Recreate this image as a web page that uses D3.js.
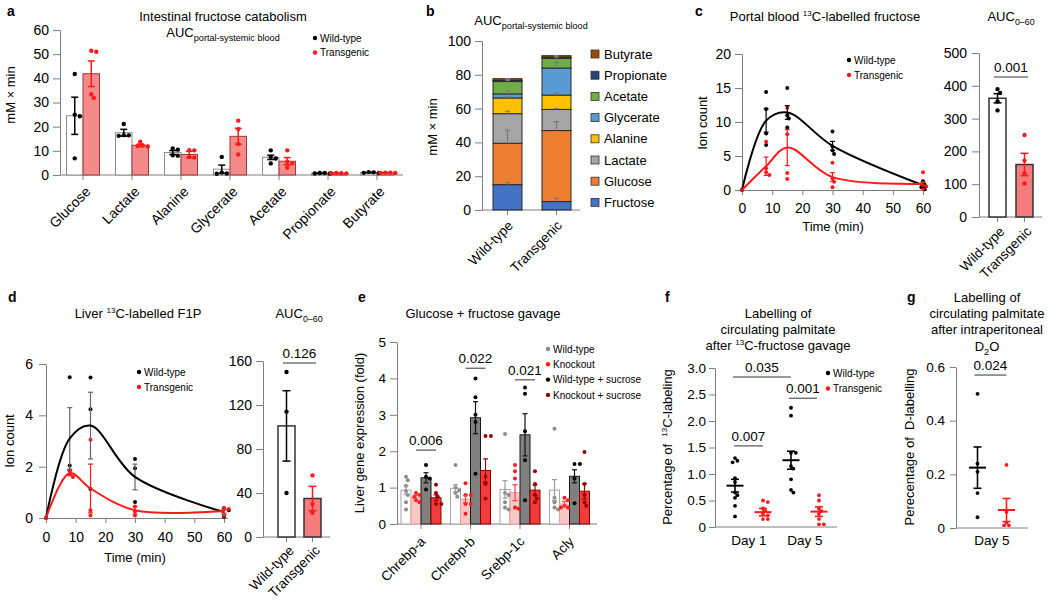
<!DOCTYPE html>
<html><head><meta charset="utf-8">
<script src="https://cdn.jsdelivr.net/npm/d3@7"></script>
<style>
body{margin:0;background:#fff}
svg{font-family:"Liberation Sans",Arial,Helvetica,sans-serif}
</style></head><body>
<svg id="chart" width="1050" height="600"></svg>
<script>
// ---------------- DATA ----------------
// Panel a
const aCats = ["Glucose","Lactate","Alanine","Glycerate","Acetate","Propionate","Butyrate"];
const aWtMean = [24.5,17.5,9.3,2.4,7.3,0.7,1.0];
const aWtSem  = [7.7,1.4,0.8,1.7,0.9,0.1,0.1];
const aTgMean = [41.9,12.3,8.5,16.0,5.7,0.7,0.9];
const aTgSem  = [5.3,0.5,1.3,3.3,1.5,0.1,0.1];
const aWtPts = [[41.8,6.9,25,24.3],[21.1,16.5,16.2,16.4],[11,10.5,8,8.2],[7.5,0.5,0.6,1.0],[10.2,7.5,6.8,4.8],[0.6,0.8,0.8,0.6],[0.8,1.2,1.1,0.9]];
const aTgPts = [[51,51.4,33.4,31.9],[12,13.8,12.2,11.8],[10.3,10.2,7.2,7.5],[22.5,19,12.8,8.5],[10.2,5.5,4.8,3],[0.6,0.7,0.8,0.7],[0.9,1.0,0.8,1.0]];
const aYTicks = [0,10,20,30,40,50,60];

// Panel b
const bGroups = ["Wild-type","Transgenic"];
const bComponents = ["Fructose","Glucose","Lactate","Alanine","Glycerate","Acetate","Propionate","Butyrate"];
const bColors = ["#4472C4","#ED7D31","#A5A5A5","#FFC000","#5B9BD5","#70AD47","#264478","#9E480E"];
const bWt = [15,24.5,17.5,9.3,2.4,7.3,0.7,1.0];
const bTg = [5,42,12.5,8.5,16,5.7,0.7,0.9];
const bWtSem = [1.2,7.7,1.4,0.8,1.7,0.9,0.1,0.1];
const bTgSem = [2.0,5.3,0.5,1.3,3.3,1.5,0.1,0.1];
const bYTicks = [0,20,40,60,80,100];

// Panel c
const cTimes = [0,8,15,30,60];
const cWtMean = [0,10.2,11.4,6.5,0.7];
const cWtSem  = [0,1.7,1.0,0.65,0.3];
const cTgMean = [0,3.5,6.25,1.9,0.9];
const cTgSem  = [0,1.35,2.65,0.65,0.3];
const cWtPts = [[0],[14.4,11.9,8.3,6.6],[15,11,10.5,9.2],[8.6,6.4,5.8,5.3],[1.3,0.8,0.4,0.1]];
const cTgPts = [[0],[7.1,3.2,2.6,2.2],[12.1,8.2,2.5,1.6],[4.0,1.7,1.2,0.4],[2.6,0.9,0.5,0.2]];
const cXTicks = [0,10,20,30,40,50,60];
const cYTicks = [0,5,10,15,20];
const cAucMean = [362,160];
const cAucSem  = [14,34];
const cAucPts  = [[390,378,352,325],[250,172,133,102]];
const cAucTicks = [0,100,200,300,400,500];
const cAucP = "0.001";

// Panel d
const dWtMean = [0,3.1,3.6,1.6,0.23];
const dWtSem  = [0,1.2,1.3,0.5,0.1];
const dTgMean = [0,1.75,1.15,0.3,0.27];
const dTgSem  = [0,0.1,0.95,0.15,0.08];
const dWtPts = [[0],[5.48,2.05,1.85],[5.47,4.24,1.13],[2.3,1.94,0.62],[0.35,0.3,0.05]];
const dTgPts = [[0],[1.85,1.7,1.6],[3.05,0.3,0.1],[0.45,0.25,0.1],[0.4,0.35,0.1]];
const dYTicks = [0,2,4,6];
const dAucMean = [101,35];
const dAucSem  = [32,11];
const dAucPts  = [[150,114,40],[56,30,22]];
const dAucTicks = [0,40,80,120,160];
const dAucP = "0.126";

// Panel e
const eGenes = ["Chrebp-a","Chrebp-b","Srebp-1c","Acly"];
const eGroups = ["Wild-type","Knockout","Wild-type + sucrose","Knockout + sucrose"];
const eWt   = [0.93,0.98,0.95,0.93];
const eKo   = [0.72,0.68,0.86,0.55];
const eWtS  = [1.27,2.92,2.45,1.31];
const eKoS  = [0.72,1.47,0.93,0.90];
const eWtSem  = [0.12,0.10,0.24,0.29];
const eKoSem  = [0.07,0.10,0.22,0.07];
const eWtSSem = [0.14,0.44,0.58,0.18];
const eKoSSem = [0.08,0.32,0.14,0.21];
const eWtPts  = [[1.3,1.2,1.05,0.9,0.8,0.6,0.4],[1.62,1.0,0.92,0.85,0.75],[2.47,0.85,0.8,0.6,0.45,0.4],[2.62,0.72,0.6,0.45,0.4]];
const eKoPts  = [[0.85,0.8,0.75,0.65,0.6],[1.12,0.8,0.8,0.55,0.55,0.28],[1.62,1.45,1.25,0.45,0.42],[0.72,0.65,0.5,0.45,0.45]];
const eWtSPts = [[1.62,1.3,1.25,0.95],[4.0,3.48,3.0,2.8,1.38],[3.75,3.58,2.55,1.75,0.65],[1.65,1.65,1.25,0.57]];
const eKoSPts = [[1.08,0.85,0.75,0.55,0.55],[2.42,2.42,1.3,1.1,0.7],[1.45,1.1,0.8,0.7,0.6],[1.98,1.1,0.8,0.6,0.5]];
const eYTicks = [0,1,2,3,4,5];
const eSigGene = [0,1,2];
const eSigY = [2.03,4.28,3.96];
const eSigP = ["0.006","0.022","0.021"];

// Panel f
const fDays = ["Day 1","Day 5"];
const fWtMean = [0.78,1.26];
const fWtSem  = [0.12,0.17];
const fTgMean = [0.28,0.29];
const fTgSem  = [0.07,0.09];
const fWtPts = [[1.3,1.25,1.22,0.92,0.85,0.65,0.6,0.55,0.4,0.2],[2.25,2.1,1.4,1.4,1.15,1.1,0.9,0.7,0.65]];
const fTgPts = [[0.5,0.47,0.35,0.3,0.25,0.22,0.15,0.15],[0.6,0.5,0.35,0.3,0.25,0.15,0.05,0.05]];
const fYTicks = [0,0.5,1.0,1.5,2.0,2.5,3.0];
const fSigP = ["0.035","0.001","0.007"];
const fSigY = [2.83,2.43,1.53];

// Panel g
const gDays = ["Day 5"];
const gWtMean = [0.225], gWtSem = [0.077];
const gTgMean = [0.067], gTgSem = [0.043];
const gWtPts = [[0.5,0.24,0.21,0.13,0.04]];
const gTgPts = [[0.235,0.06,0.02,0.01,0.01]];
const gYTicks = [0,0.2,0.4,0.6];
const gSigP = "0.024";
const gSigY = 0.57;

// ---------------- HELPERS ----------------
const FONT = '"Liberation Sans", Arial, Helvetica, sans-serif';
const AX = "#7f7f7f";
const svg = d3.select("#chart");
const fmtInt = d => String(d);
const fmt1 = d => d === 0 ? "0" : d3.format(".1f")(d);

function txt(x, y, s, o = {}) {
  const t = svg.append("text").text(s)
    .attr("font-size", o.fs || 13)
    .attr("text-anchor", o.anchor || "middle")
    .attr("fill", o.fill || "#000");
  if (o.weight) t.attr("font-weight", o.weight);
  if (o.rotate) t.attr("transform", `translate(${x},${y}) rotate(${o.rotate})`);
  else t.attr("x", x).attr("y", y);
  return t;
}
function rich(x, y, parts, fs, o = {}) {
  const t = svg.append("text").attr("font-size", fs)
    .attr("text-anchor", o.anchor || "middle").attr("fill", "#000");
  if (o.rotate) t.attr("transform", `translate(${x},${y}) rotate(${o.rotate})`);
  else t.attr("x", x).attr("y", y);
  let shift = 0;
  parts.forEach(p => {
    const s = typeof p === "string" ? { t: p } : p;
    const target = s.sub ? fs * 0.32 : s.sup ? -fs * 0.42 : 0;
    const ts = t.append("tspan").attr("dy", target - shift).text(s.t);
    if (s.sub || s.sup) ts.attr("font-size", fs * (s.size || 0.62));
    shift = target;
  });
  return t;
}
function styleAxis(g, fs) {
  g.attr("font-family", FONT);
  g.select(".domain").attr("stroke", AX);
  g.selectAll(".tick line").attr("stroke", AX);
  g.selectAll(".tick text").attr("font-size", fs).attr("fill", "#000");
}
function yAxis(scale, x, ticks, fs, size, pad, fmt) {
  const a = d3.axisLeft(scale).tickValues(ticks).tickSize(size).tickSizeOuter(0).tickPadding(pad)
    .tickFormat(fmt || fmtInt);
  const g = svg.append("g").attr("transform", `translate(${x},0)`).call(a);
  styleAxis(g, fs);
  return g;
}
function hline(x0, x1, y, color = AX, w = 1) {
  svg.append("line").attr("x1", x0).attr("x2", x1).attr("y1", y).attr("y2", y)
    .attr("stroke", color).attr("stroke-width", w);
}
function catAxis(scale, y, x0, x1, fs, ox, oy, tick = 5) {
  const g = svg.append("g").attr("transform", `translate(0,${y})`)
    .call(d3.axisBottom(scale).tickSize(tick).tickSizeOuter(0));
  styleAxis(g, fs);
  g.select(".domain").remove();
  g.selectAll(".tick text").attr("x", 0).attr("y", 0).attr("dy", "0.35em")
    .attr("text-anchor", "end").attr("transform", `translate(${ox},${oy}) rotate(-45)`);
  hline(x0, x1, y);
  return g;
}
// band scale whose bands (width bw) are centred on c0, c0+step, ...
function bandAt(domain, c0, step, bw) {
  const p = 1 - bw / step;
  return d3.scaleBand().domain(domain)
    .range([c0 - step / 2, c0 - step / 2 + step * domain.length])
    .paddingInner(p).paddingOuter(p / 2);
}
function swarm(vals, ys, r, step) {
  const out = [];
  vals.map(v => v).sort((a, b) => b - a).forEach(v => {
    const py = ys(v);
    const cands = [0];
    for (let k = 1; k < 14; k++) cands.push(k * step, -k * step);
    let dx = 0;
    for (const c of cands) {
      if (out.every(q => (q.dx - c) ** 2 + (q.py - py) ** 2 >= (2 * r) ** 2 * 0.85)) { dx = c; break; }
    }
    out.push({ v, py, dx });
  });
  return out;
}
function dots(vals, cx, ys, r, color, step) {
  swarm(vals, ys, r, step || r * 1.15).forEach(p => {
    svg.append("circle").attr("cx", cx + p.dx).attr("cy", p.py).attr("r", r).attr("fill", color);
  });
}
function errBar(cx, m, s, ys, color, cap, w, upOnly) {
  const y0 = ys(upOnly ? m : m - s), y1 = ys(m + s);
  svg.append("line").attr("x1", cx).attr("x2", cx).attr("y1", y0).attr("y2", y1)
    .attr("stroke", color).attr("stroke-width", w);
  hline(cx - cap / 2, cx + cap / 2, y1, color, w);
  if (!upOnly) hline(cx - cap / 2, cx + cap / 2, y0, color, w);
}
function legendDots(x, y0, dy, labels, colors, fs) {
  labels.forEach((l, i) => {
    svg.append("circle").attr("cx", x).attr("cy", y0 + i * dy).attr("r", 2.2).attr("fill", colors[i]);
    txt(x + 5, y0 + i * dy + fs * 0.36, l, { fs, anchor: "start" });
  });
}
function sig(x0, x1, y, label, fs = 13) {
  hline(x0, x1, y, "#333", 1);
  txt((x0 + x1) / 2, y - 5, label, { fs });
}

// ---------------- PANEL LETTERS ----------------
[["a",7,16],["b",426,16],["c",695,16],["d",8,302],["e",358,302],["f",665,302],["g",907,302]]
  .forEach(([l, x, y]) => txt(x, y, l, { fs: 14, weight: "bold", anchor: "start" }));

// ---------------- PANEL A ----------------
(function () {
  const ys = d3.scaleLinear([0, 60], [175, 30]);
  const xs = bandAt(aCats, 83, 49, 33);
  yAxis(ys, 60, aYTicks, 14, 7, 4);
  catAxis(xs, 175, 60, 403, 14, 5, 14);
  const bw = xs.bandwidth() / 2;
  aCats.forEach((c, i) => {
    const x0 = xs(c);
    svg.append("rect").attr("x", x0).attr("y", ys(aWtMean[i])).attr("width", bw)
      .attr("height", ys(0) - ys(aWtMean[i])).attr("fill", "#fff").attr("stroke", "#8c8c8c");
    svg.append("rect").attr("x", x0 + bw).attr("y", ys(aTgMean[i])).attr("width", bw)
      .attr("height", ys(0) - ys(aTgMean[i])).attr("fill", "#f58a8a").attr("stroke", "#9c3a3a");
    errBar(x0 + bw / 2, aWtMean[i], aWtSem[i], ys, "#000", 7, 1.5);
    errBar(x0 + bw * 1.5, aTgMean[i], aTgSem[i], ys, "#ff1a1a", 7, 1.5);
    dots(aWtPts[i], x0 + bw / 2, ys, 2.2, "#000");
    dots(aTgPts[i], x0 + bw * 1.5, ys, 2.2, "#ff1a1a");
  });
  txt(223, 21, "Intestinal fructose catabolism", { fs: 13 });
  rich(223, 37, ["AUC", { t: "portal-systemic blood", sub: true, size: 0.7 }], 13);
  txt(15, 95, "mM × min", { fs: 13, rotate: -90 });
  legendDots(315, 38, 14.5, ["Wild-type", "Transgenic"], ["#000", "#ff1a1a"], 10);
})();

// ---------------- PANEL B ----------------
(function () {
  const ys = d3.scaleLinear([0, 100], [210, 41]);
  const xs = bandAt(bGroups, 507.5, 49, 29);
  yAxis(ys, 482, bYTicks, 14, 7, 4);
  catAxis(xs, 210, 482, 580, 13.5, 3, 13);
  const series = [bWt, bTg], sems = [bWtSem, bTgSem];
  bGroups.forEach((g, gi) => {
    let cum = 0;
    const tops = [];
    bComponents.forEach((c, ci) => {
      const v = series[gi][ci];
      svg.append("rect").attr("x", xs(g)).attr("y", ys(cum + v)).attr("width", xs.bandwidth())
        .attr("height", ys(cum) - ys(cum + v)).attr("fill", bColors[ci]).attr("stroke", "#2b2b2b").attr("stroke-width", 1);
      cum += v;
      tops.push(cum);
    });
    bComponents.forEach((c, ci) => {
      errBar(xs(g) + xs.bandwidth() / 2, tops[ci], sems[gi][ci], ys, "#7a7a7a", 5, 1.2, true);
    });
  });
  rich(531, 25, ["AUC", { t: "portal-systemic blood", sub: true, size: 0.7 }], 13);
  txt(437, 127, "mM × min", { fs: 13, rotate: -90 });
  const order = bComponents.slice().reverse();
  order.forEach((c, i) => {
    const ci = bComponents.indexOf(c);
    const y = 54 + i * 21.2;
    svg.append("rect").attr("x", 591).attr("y", y - 4).attr("width", 8).attr("height", 8)
      .attr("fill", bColors[ci]).attr("stroke", "#333").attr("stroke-width", 0.8);
    txt(604, y + 4.5, c, { fs: 13, anchor: "start" });
  });
})();

// ---------------- LINE PANEL HELPER ----------------
function linePanel(o) {
  const xs = d3.scaleLinear([0, 60], o.xr);
  const ys = d3.scaleLinear([0, o.ymax], o.yr);
  yAxis(ys, o.xr[0], o.yticks, 14, 7, o.ypad);
  const gx = svg.append("g").attr("transform", `translate(0,${o.yr[0]})`)
    .call(d3.axisBottom(xs).tickValues(cXTicks).tickSize(5).tickSizeOuter(0).tickPadding(o.xpad).tickFormat(fmtInt));
  styleAxis(gx, 14);
  gx.select(".domain").attr("d", `M${o.xr[0]},0.5H${o.xr[1] + 4}`);
  const line = d3.line().x((d, i) => xs(cTimes[i])).y(d => ys(d)).curve(d3.curveCatmullRom.alpha(0.5));
  [[o.wtPts, o.wtColor], [o.tgPts, "#ff1a1a"]].forEach(([pts, col]) => {
    pts.forEach((arr, i) => dots(arr, xs(cTimes[i]), ys, 2, col, 1.6));
  });
  [[o.wtMean, o.wtSem, o.wtErr, "#000"], [o.tgMean, o.tgSem, "#ff1a1a", "#ff1a1a"]].forEach(([m, s, ec, lc]) => {
    m.forEach((v, i) => { if (i > 0) errBar(xs(cTimes[i]), v, s[i], ys, ec, 5, 1.2); });
    svg.append("path").attr("d", line(m)).attr("fill", "none").attr("stroke", lc).attr("stroke-width", 2);
  });
  return { xs, ys };
}
function aucPanel(o) {
  const ys = d3.scaleLinear([0, o.ymax], o.yr);
  const xs = bandAt(bGroups, o.c0, o.step, 17);
  yAxis(ys, o.x0, o.ticks, 14, 7, o.ypad);
  catAxis(xs, o.yr[0], o.x0, o.x1, 13.5, o.lox, o.loy, 5);
  const fills = ["#fff", "#f47c7c"], ecol = ["#000", "#ff1a1a"];
  bGroups.forEach((g, i) => {
    const cx = xs(g) + xs.bandwidth() / 2;
    svg.append("rect").attr("x", xs(g)).attr("y", ys(o.mean[i])).attr("width", xs.bandwidth())
      .attr("height", o.yr[0] - ys(o.mean[i])).attr("fill", fills[i]).attr("stroke", "#333").attr("stroke-width", 1.5);
    errBar(cx, o.mean[i], o.sem[i], ys, ecol[i], 8, 1.5);
    dots(o.pts[i], cx, ys, 2.2, ecol[i]);
  });
  const c1 = xs(bGroups[0]) + xs.bandwidth() / 2, c2 = xs(bGroups[1]) + xs.bandwidth() / 2;
  sig(c1 - 3.5, c2 + 3.5, o.sigY, o.p, 13.5);
}

// ---------------- PANEL C ----------------
linePanel({ xr: [742, 923], yr: [190, 54], ymax: 20, yticks: cYTicks, ypad: 4, xpad: 8,
  wtMean: cWtMean, wtSem: cWtSem, tgMean: cTgMean, tgSem: cTgSem, wtPts: cWtPts, tgPts: cTgPts,
  wtColor: "#000", wtErr: "#000" });
rich(825, 21, ["Portal blood ", { t: "13", sup: true }, "C-labelled fructose"], 13);
txt(833, 231, "Time (min)", { fs: 13 });
txt(707, 123, "Ion count", { fs: 13, rotate: -90 });
legendDots(849, 60, 15, ["Wild-type", "Transgenic"], ["#000", "#ff1a1a"], 10);
aucPanel({ yr: [217, 53], ymax: 500, c0: 997.5, step: 27, x0: 979, x1: 1042, ticks: cAucTicks,
  ypad: 5, lox: 4.5, loy: 12, mean: cAucMean, sem: cAucSem, pts: cAucPts, sigY: 77, p: cAucP });
rich(1011, 21, ["AUC", { t: "0–60", sub: true, size: 0.68 }], 13);

// ---------------- PANEL D ----------------
linePanel({ xr: [46, 224], yr: [518, 364], ymax: 6, yticks: dYTicks, ypad: 6, xpad: 9,
  wtMean: dWtMean, wtSem: dWtSem, tgMean: dTgMean, tgSem: dTgSem, wtPts: dWtPts, tgPts: dTgPts,
  wtColor: "#000", wtErr: "#666" });
rich(138, 318, ["Liver ", { t: "13", sup: true }, "C-labelled F1P"], 13);
txt(135, 562, "Time (min)", { fs: 13 });
txt(14, 441, "Ion count", { fs: 13, rotate: -90 });
legendDots(139, 372, 15, ["Wild-type", "Transgenic"], ["#000", "#ff1a1a"], 10);
aucPanel({ yr: [537, 361], ymax: 160, c0: 286.5, step: 26, x0: 263, x1: 330, ticks: dAucTicks,
  ypad: 4, lox: 5, loy: 11, mean: dAucMean, sem: dAucSem, pts: dAucPts, sigY: 363, p: dAucP });
rich(299, 318, ["AUC", { t: "0–60", sub: true, size: 0.68 }], 13);

// ---------------- PANEL E ----------------
(function () {
  const ys = d3.scaleLinear([0, 5], [524, 342]);
  const xs = bandAt(eGenes, 421, 49.5, 40);
  yAxis(ys, 397, eYTicks, 13.5, 7, 4);
  catAxis(xs, 524, 397, 597, 13.5, 2, 15);
  const sub = d3.scaleBand().domain(eGroups).range([0, xs.bandwidth()]);
  const means = [eWt, eKo, eWtS, eKoS], sems = [eWtSem, eKoSem, eWtSSem, eKoSSem];
  const pts = [eWtPts, eKoPts, eWtSPts, eKoSPts];
  const fills = ["#ffffff", "#fbc6c6", "#808080", "#f23c3c"];
  const strokes = ["#a6a6a6", "#f19a9a", "#1a1a1a", "#8a0000"];
  const ecols = ["#9a9a9a", "#ff3b3b", "#111", "#a00000"];
  const dcols = ["#8c8c8c", "#ff1a1a", "#000", "#9b0000"];
  eGenes.forEach((gname, gi) => {
    eGroups.forEach((grp, k) => {
      const x = xs(gname) + sub(grp), m = means[k][gi];
      svg.append("rect").attr("x", x).attr("y", ys(m)).attr("width", sub.bandwidth())
        .attr("height", ys(0) - ys(m)).attr("fill", fills[k]).attr("stroke", strokes[k]).attr("stroke-width", 1);
    });
    eGroups.forEach((grp, k) => {
      const cx = xs(gname) + sub(grp) + sub.bandwidth() / 2;
      dots(pts[k][gi], cx, ys, 2, dcols[k], 1.8);
      errBar(cx, means[k][gi], sems[k][gi], ys, ecols[k], 5, 1.2);
    });
  });
  eSigGene.forEach((gi, j) => {
    const g = eGenes[gi];
    const x0 = xs(g) + sub(eGroups[1]) + sub.bandwidth() / 2;
    const x1 = xs(g) + sub(eGroups[3]) + sub.bandwidth() / 2;
    sig(x0, x1, ys(eSigY[j]), eSigP[j], 13.5);
  });
  txt(483, 318, "Glucose + fructose gavage", { fs: 13 });
  txt(364, 433, "Liver gene expression (fold)", { fs: 13, rotate: -90 });
  legendDots(548, 349, 15.3, eGroups, dcols, 10);
})();

// ---------------- PANEL F / G helper ----------------
function scatterPanel(o) {
  const ys = d3.scaleLinear([0, o.ymax], o.yr);
  const xs = bandAt(o.days, o.c0, 56, 56);
  yAxis(ys, o.x0, o.ticks, 13.5, 6, o.ypad, fmt1);
  hline(o.x0, o.x1, o.yr[0]);
  const pos = [];
  o.days.forEach((d, i) => {
    const c = xs(d) + xs.bandwidth() / 2;
    txt(c, 545, d, { fs: 13.5 });
    [[o.wtPts, o.wtMean, o.wtSem, "#000", -o.off], [o.tgPts, o.tgMean, o.tgSem, "#ff1a1a", o.off]].forEach(([p, m, s, col, off]) => {
      const cx = c + off;
      dots(p[i], cx, ys, 1.9, col, 2.4);
      hline(cx - 8.5, cx + 8.5, ys(m[i]), col, 2);
      errBar(cx, m[i], s[i], ys, col, 8, 1.6);
      pos.push(cx);
    });
  });
  return { ys, pos };
}

// ---------------- PANEL F ----------------
(function () {
  const r = scatterPanel({ days: fDays, c0: 749, yr: [527, 368], ymax: 3, ticks: fYTicks, x0: 715, x1: 837, ypad: 3,
    off: 14, wtPts: fWtPts, tgPts: fTgPts, wtMean: fWtMean, wtSem: fWtSem, tgMean: fTgMean, tgSem: fTgSem });
  const [d1w, d1t, d5w, d5t] = r.pos;
  sig(d1w - 2, d5w, r.ys(fSigY[0]), fSigP[0], 13.5);
  sig(d5w - 2, d5t - 2, r.ys(fSigY[1]), fSigP[1], 13.5);
  sig(d1w - 1, d1t, r.ys(fSigY[2]), fSigP[2], 13.5);
  txt(778, 318, "Labelling of", { fs: 13 });
  txt(778, 334, "circulating palmitate", { fs: 13 });
  rich(778, 350, ["after ", { t: "13", sup: true }, "C-fructose gavage"], 13);
  rich(672, 447, ["Percentage of\u00A0\u00A0", { t: "13", sup: true }, "C-labeling"], 13, { rotate: -90 });
  legendDots(828, 373, 15.5, ["Wild-type", "Transgenic"], ["#000", "#ff1a1a"], 10);
})();

// ---------------- PANEL G ----------------
(function () {
  const r = scatterPanel({ days: gDays, c0: 992, yr: [528, 367], ymax: 0.6, ticks: gYTicks, x0: 956, x1: 1028, ypad: 5,
    off: 14.5, wtPts: gWtPts, tgPts: gTgPts, wtMean: gWtMean, wtSem: gWtSem, tgMean: gTgMean, tgSem: gTgSem });
  const [w, t] = r.pos;
  sig(w - 3, t, r.ys(gSigY), gSigP, 13.5);
  txt(987, 302, "Labelling of", { fs: 13 });
  txt(987, 318, "circulating palmitate", { fs: 13 });
  txt(987, 334, "after intraperitoneal", { fs: 13 });
  rich(987, 351, ["D", { t: "2", sub: true, size: 0.7 }, "O"], 13);
  txt(914, 447, "Perecentage of\u00A0\u00A0D-labelling", { fs: 13, rotate: -90 });
})();
</script></body></html>
